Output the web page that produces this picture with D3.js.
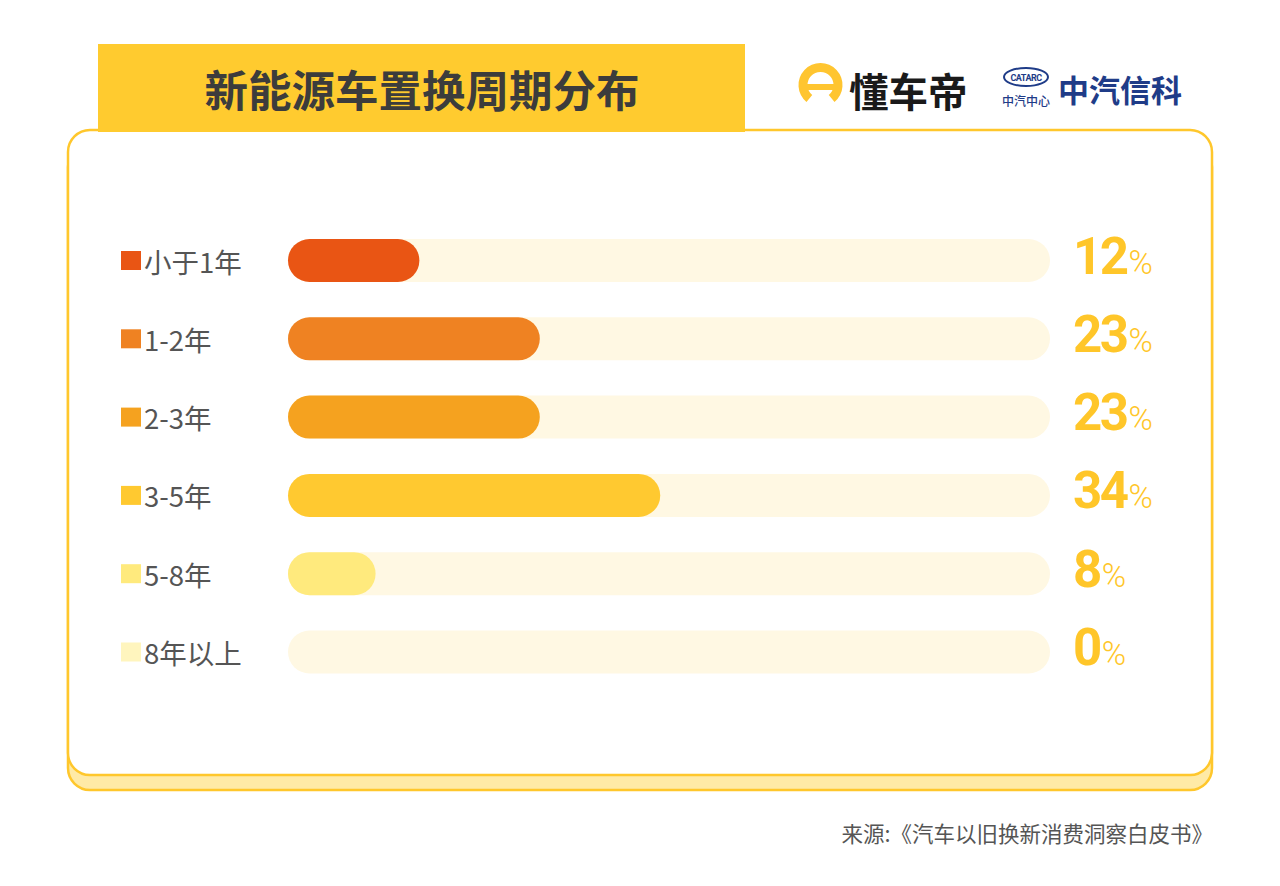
<!DOCTYPE html>
<html>
<head>
<meta charset="utf-8">
<script src="https://cdn.jsdelivr.net/npm/d3@7"></script>
<style>
  html, body { margin: 0; padding: 0; background: #ffffff; }
  svg { display: block; }
</style>
</head>
<body>
<svg id="chart" width="1280" height="886"></svg>
<script>
// ---- data ----
const title = "新能源车置换周期分布";
const categories = ["小于1年", "1-2年", "2-3年", "3-5年", "5-8年", "8年以上"];
const values = [12, 23, 23, 34, 8, 0];
const colors = ["#E95514", "#EF8222", "#F5A21F", "#FFC930", "#FFEA7D", "#FFF5BE"];
const source = "来源:《汽车以旧换新消费洞察白皮书》";

const svg = d3.select("#chart");
const CJK = "'Noto Sans CJK SC', 'Noto Sans', sans-serif";
const NUM = "Roboto, 'Noto Sans', sans-serif";

// ---- card background ----
svg.append("rect").attr("x", 68).attr("y", 145).attr("width", 1144).attr("height", 645)
  .attr("rx", 22).attr("fill", "#FFEAA6").attr("stroke", "#FFC72C").attr("stroke-width", 2.5);
svg.append("rect").attr("x", 68).attr("y", 130).attr("width", 1144).attr("height", 645)
  .attr("rx", 22).attr("fill", "#ffffff").attr("stroke", "#FFC72C").attr("stroke-width", 2.5);

// ---- title banner ----
svg.append("rect").attr("x", 98).attr("y", 44).attr("width", 647).attr("height", 88)
  .attr("fill", "#FFCB2F");
svg.append("text").attr("x", 422).attr("y", 88)
  .attr("text-anchor", "middle").attr("dominant-baseline", "central")
  .attr("font-family", CJK).attr("font-weight", 700).attr("font-size", 43.5)
  .attr("fill", "#3c3c3c").text(title);

// ---- logos ----
const logo = svg.append("g");
const arc = d3.arc().innerRadius(13).outerRadius(22)
  .startAngle(-Math.PI * 0.78).endAngle(Math.PI * 0.78);
logo.append("path").attr("transform", "translate(820.5,85)").attr("d", arc()).attr("fill", "#FFC530");
logo.append("rect").attr("x", 806).attr("y", 84).attr("width", 29).attr("height", 6).attr("fill", "#FFC530");
logo.append("text").attr("x", 849).attr("y", 89).attr("dominant-baseline", "central")
  .attr("font-family", CJK).attr("font-weight", 700).attr("font-size", 39.5)
  .attr("fill", "#1a1a1a").text("懂车帝");

logo.append("ellipse").attr("cx", 1026).attr("cy", 77).attr("rx", 22).attr("ry", 9)
  .attr("fill", "none").attr("stroke", "#1F3C88").attr("stroke-width", 2);
logo.append("text").attr("x", 1026).attr("y", 77.5).attr("text-anchor", "middle").attr("dominant-baseline", "central")
  .attr("font-family", NUM).attr("font-weight", 700).attr("font-size", 9).attr("letter-spacing", -0.5)
  .attr("fill", "#1F3C88").text("CATARC");
logo.append("text").attr("x", 1026).attr("y", 100).attr("text-anchor", "middle").attr("dominant-baseline", "central")
  .attr("font-family", CJK).attr("font-weight", 500).attr("font-size", 12)
  .attr("fill", "#1F3C88").text("中汽中心");
logo.append("text").attr("x", 1058).attr("y", 88).attr("dominant-baseline", "central")
  .attr("font-family", CJK).attr("font-weight", 700).attr("font-size", 31)
  .attr("fill", "#1F3C88").text("中汽信科");

// ---- scales ----
const x = d3.scaleLinear().domain([0, 69.6]).range([288, 1050]);
const y = d3.scalePoint().domain(categories).range([260.5, 652]);
const barH = 43;

const rows = svg.append("g").selectAll("g").data(categories).join("g")
  .attr("transform", d => `translate(0,${y(d)})`);

// track
rows.append("rect")
  .attr("x", x(0)).attr("y", -barH / 2)
  .attr("width", x.range()[1] - x(0)).attr("height", barH)
  .attr("rx", barH / 2).attr("fill", "#FFF8E3");

// bars
rows.append("rect")
  .attr("x", x(0)).attr("y", -barH / 2)
  .attr("width", (d, i) => x(values[i]) - x(0)).attr("height", barH)
  .attr("rx", barH / 2).attr("fill", (d, i) => colors[i])
  .attr("display", (d, i) => values[i] > 0 ? null : "none");

// legend squares + labels
rows.append("rect").attr("x", 121).attr("y", -9.5).attr("width", 20).attr("height", 19)
  .attr("fill", (d, i) => colors[i]);
rows.append("text").attr("x", 144).attr("y", 0).attr("dominant-baseline", "central")
  .attr("font-family", CJK).attr("font-size", 27.5).attr("fill", "#555555")
  .text(d => d);

// value labels
const vt = rows.append("text").attr("x", 1073).attr("y", 13)
  .attr("fill", "#FFC629").attr("font-family", NUM);
vt.append("tspan").attr("font-weight", 700).attr("font-size", 51).attr("letter-spacing", -2.5)
  .text((d, i) => values[i]);
vt.append("tspan").attr("font-weight", 300).attr("font-size", 33).attr("dx", 2)
  .text("%");

// ---- source ----
svg.append("text").attr("x", 1213).attr("y", 832).attr("text-anchor", "end").attr("dominant-baseline", "central")
  .attr("font-family", CJK).attr("font-size", 21.5).attr("fill", "#555555").text(source);
</script>
</body>
</html>
